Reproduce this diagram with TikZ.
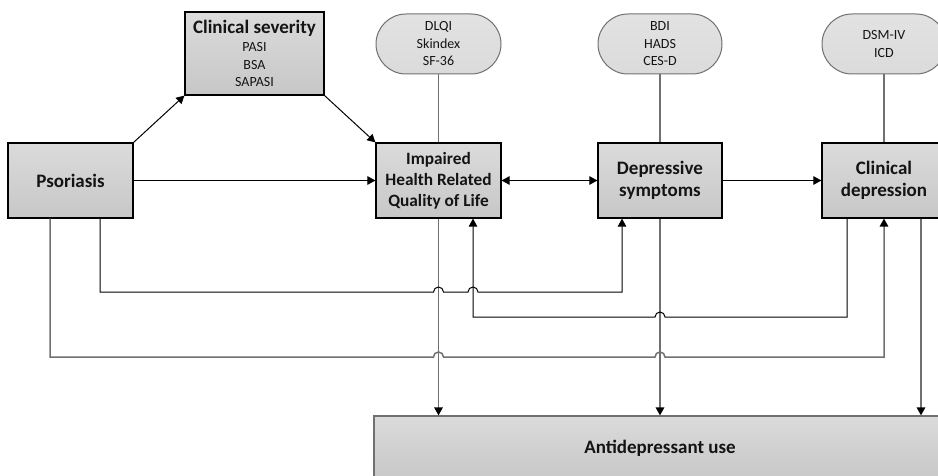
\documentclass[tikz,border=0pt]{standalone}
\usepackage{fontspec}
\setmainfont{Carlito}
\usetikzlibrary{arrows.meta,shapes.misc,calc}
\definecolor{boxtop}{RGB}{219,219,219}
\definecolor{boxbot}{RGB}{199,199,199}
\definecolor{linegray}{RGB}{112,112,112}
\definecolor{txt}{RGB}{20,20,20}

\begin{document}
\begin{tikzpicture}[x=1pt,y=1pt,>={Triangle[length=8pt,width=8.5pt,color=black]},
  box/.style={draw=black,line width=1.2pt,top color=boxtop,bottom color=boxbot,
    text=txt,align=center,inner sep=0pt,minimum width=125pt,minimum height=75pt,
    font=\bfseries\fontsize{19}{22}\selectfont},
  pill/.style={rounded rectangle,draw=linegray,line width=1pt,top color=boxtop!80!white,
    bottom color=boxtop,text=txt,align=center,inner sep=0pt,minimum width=125pt,
    minimum height=60pt,font=\fontsize{14}{17.5}\selectfont},
  conn/.style={line width=1pt,->},
  grayline/.style={draw=linegray,line width=1.5pt}]
\useasboundingbox (0,0) rectangle (938,475);
\clip (0,0) rectangle (938,475);
% Kästen
\node[box] (pso) at (70.5,294.5) {Psoriasis};
\node[box,minimum width=139pt,minimum height=83pt,font=\fontsize{14}{17.5}\selectfont]
  (sev) at (254.5,421.5) {{\bfseries\fontsize{19}{22}\selectfont Clinical severity}\\[1pt]PASI\\BSA\\SAPASI};
\node[box,font=\bfseries\fontsize{17.3}{21}\selectfont] (hr) at (438.5,294.5)
  {Impaired\\Health Related\\Quality of Life};
\node[box,minimum width=124pt] (dep) at (660,294.5) {Depressive\\symptoms};
\node[box,minimum width=124pt] (cd) at (884,294.5) {Clinical\\depression};
\node[box,draw=linegray,minimum width=572pt,minimum height=64pt] (ad) at (660,27)
  {Antidepressant use};
% Messinstrumente
\node[pill] (hrm) at (438.5,431) {DLQI\\Skindex\\SF-36};
\node[pill,minimum width=124pt] (depm) at (660,431) {BDI\\HADS\\CES-D};
\node[pill,minimum width=124pt] (cdm) at (884,431) {DSM-IV\\ICD};
\draw[grayline] (hrm.south) -- (hr.north);
\draw[grayline] (depm.south) -- (dep.north);
\draw[grayline] (cdm.south) -- (cd.north);
% Hauptpfade
\draw[conn] (pso.north east) -- (sev.south west);
\draw[conn] (sev.south east) -- (hr.north west);
\draw[conn] (pso.east) -- (hr.west);
\draw[conn,<->] (hr.east) -- (dep.west);
\draw[conn] (dep.east) -- (cd.west);
% zum Antidepressivagebrauch
\draw[grayline,->] (hr.south) -- (hr.south |- ad.north);
\draw[grayline,->] (dep.south) -- (dep.south |- ad.north);
\draw[grayline,->] ([xshift=37pt]cd.south) -- ([xshift=37pt]cd.south |- ad.north);
% Umwege unten (mit Sprüngen)
\coordinate (yA) at (0,183);
\coordinate (yB) at (0,158);
\coordinate (yC) at (0,118);
\coordinate (hrin) at ([xshift=34.5pt]hr.south);
\coordinate (depin) at ([xshift=-38pt]dep.south);
\coordinate (cdout) at ([xshift=-37pt]cd.south);
\draw[conn] ([xshift=29.5pt]pso.south) |- ($(yA -| hr.south)+(-5,0)$)
  arc[start angle=180,end angle=0,radius=5] -- ($(yA -| hrin)+(-5,0)$)
  arc[start angle=180,end angle=0,radius=5] -- (yA -| depin) -- (depin);
\draw[conn] (cdout) |- ($(yB -| dep.south)+(5,0)$)
  arc[start angle=0,end angle=180,radius=5] -- (yB -| hrin) -- (hrin);
\draw[grayline,->] ([xshift=-20.5pt]pso.south) |- ($(yC -| hr.south)+(-5,0)$)
  arc[start angle=180,end angle=0,radius=5] -- ($(yC -| dep.south)+(-5,0)$)
  arc[start angle=180,end angle=0,radius=5] -- (yC -| cd.south) -- (cd.south);
\end{tikzpicture}
\end{document}
